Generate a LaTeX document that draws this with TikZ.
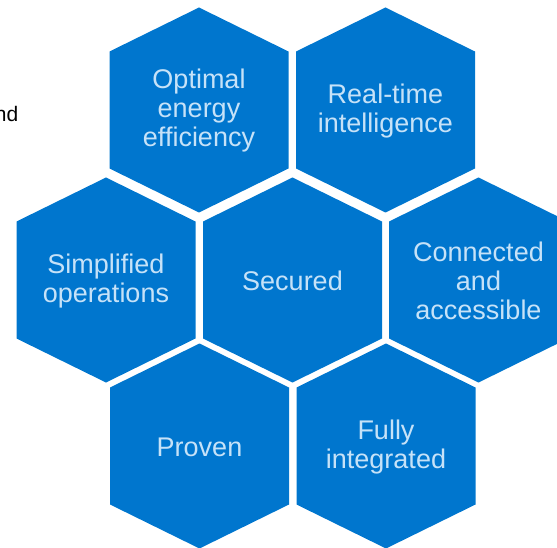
\documentclass[tikz,border=0pt]{standalone}
\usepackage{fontspec}
\setmainfont{Liberation Sans}
\definecolor{hexblue}{RGB}{0,118,206}
\definecolor{hextext}{RGB}{198,226,248}
\begin{document}
\begin{tikzpicture}[x=1pt,y=-1pt,
  hexlabel/.style={text=hextext,align=center,inner sep=0pt,
    font=\fontsize{27}{29}\selectfont},
  sidetext/.style={text=black,anchor=base east,inner sep=0pt,
    font=\fontsize{21}{24}\selectfont}]
\useasboundingbox (0,0) rectangle (557,548);
\clip (0,0) rectangle (557,548);
\foreach \nm/\cx/\cy/\txt in {
  opt/199/110/{Optimal\\energy\\efficiency},
  rt/385.5/110/{Real-time\\intelligence},
  simp/106/280/{Simplified\\operations},
  sec/292.5/280/{Secured},
  conn/478.5/280/{Connected\\and\\accessible},
  prov/199.5/446/{Proven},
  full/386/446/{Fully\\integrated}}{
  \fill[hexblue] (\cx,\cy-102.5) -- (\cx+89.5,\cy-58.5) -- (\cx+89.5,\cy+58.5)
    -- (\cx,\cy+102.5) -- (\cx-89.5,\cy+58.5) -- (\cx-89.5,\cy-58.5) -- cycle;
  \node[hexlabel] (\nm) at (\cx,\cy+1) {\txt};
}
\node[sidetext] (side) at (18.5,121.5) {nd};
\end{tikzpicture}
\end{document}
